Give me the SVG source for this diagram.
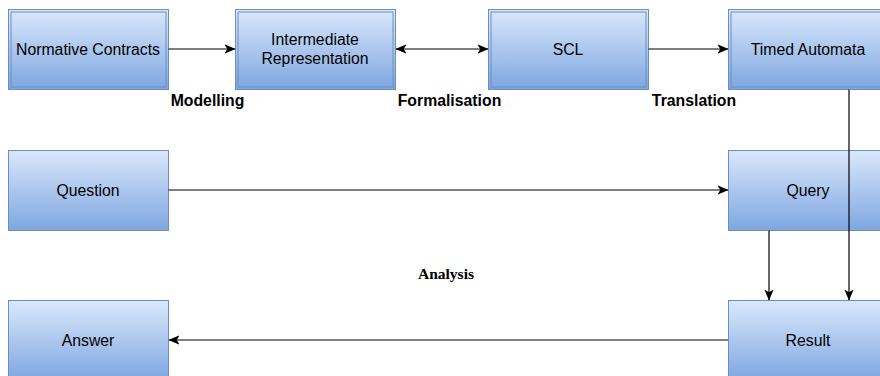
<svg xmlns="http://www.w3.org/2000/svg" width="880" height="376" viewBox="0 0 880 376">
<defs>
<linearGradient id="g" x1="0" y1="0" x2="0" y2="1">
<stop offset="0" stop-color="#dae8fc"/>
<stop offset="1" stop-color="#7ea6e0"/>
</linearGradient>
<marker id="ah" viewBox="0 0 10 10" refX="9.5" refY="5" markerWidth="11" markerHeight="11" markerUnits="userSpaceOnUse" orient="auto-start-reverse">
<path d="M0,0.8 L10,5 L0,9.2 L2.5,5 Z" fill="#000"/>
</marker>
<style>
.box{fill:url(#g);stroke:#6c8ebf;stroke-width:1}
.inner{fill:none;stroke:#6c8ebf;stroke-width:1}
.t{font-family:"Liberation Sans",Arial,sans-serif;font-size:15.8px;fill:#000;text-anchor:middle}
.lb{font-family:"Liberation Sans",Arial,sans-serif;font-size:15.8px;font-weight:bold;fill:#000;text-anchor:middle}
.ls{font-family:"Liberation Serif","Times New Roman",serif;font-size:15.5px;font-weight:bold;fill:#000;text-anchor:middle}
.c{stroke:#000;stroke-width:1.2;fill:none}
</style>
</defs>
<rect width="880" height="376" fill="#fff"/>
<g id="normative">
<rect class="box" x="8.5" y="9.5" width="160" height="80"/>
<rect class="inner" x="11" y="12" width="155" height="75"/>
<text class="t" x="88" y="54.5">Normative Contracts</text>
</g>
<g id="intermediate">
<rect class="box" x="235.5" y="9.5" width="160" height="80"/>
<rect class="inner" x="238" y="12" width="155" height="75"/>
<text class="t" x="315" y="44.5">Intermediate</text>
<text class="t" x="315" y="64">Representation</text>
</g>
<g id="scl">
<rect class="box" x="488.5" y="9.5" width="160" height="80"/>
<rect class="inner" x="491" y="12" width="155" height="75"/>
<text class="t" x="568" y="54.5">SCL</text>
</g>
<g id="timed">
<rect class="box" x="728.5" y="9.5" width="160" height="80"/>
<rect class="inner" x="731" y="12" width="155" height="75"/>
<text class="t" x="808" y="54.5">Timed Automata</text>
</g>
<g id="question">
<rect class="box" x="8.5" y="150.5" width="160" height="80"/>
<text class="t" x="88" y="196">Question</text>
</g>
<g id="query">
<rect class="box" x="728.5" y="150.5" width="160" height="80"/>
<text class="t" x="808" y="196">Query</text>
</g>
<g id="answer">
<rect class="box" x="8.5" y="300.5" width="160" height="80"/>
<text class="t" x="88" y="345.5">Answer</text>
</g>
<g id="result">
<rect class="box" x="728.5" y="300.5" width="160" height="80"/>
<text class="t" x="808" y="345.5">Result</text>
</g>
<g id="connectors">
<line class="c" x1="168.5" y1="49" x2="235" y2="49" marker-end="url(#ah)"/>
<line class="c" x1="396" y1="49" x2="488" y2="49" marker-start="url(#ah)" marker-end="url(#ah)"/>
<line class="c" x1="648.5" y1="49" x2="728" y2="49" marker-end="url(#ah)"/>
<line class="c" x1="849" y1="89.5" x2="849" y2="300" marker-end="url(#ah)"/>
<line class="c" x1="769" y1="230.5" x2="769" y2="300" marker-end="url(#ah)"/>
<line class="c" x1="168.5" y1="190" x2="728" y2="190" marker-end="url(#ah)"/>
<line class="c" x1="728" y1="340" x2="169" y2="340" marker-end="url(#ah)"/>
</g>
<g id="labels">
<text class="lb" x="207.5" y="106">Modelling</text>
<text class="lb" x="449.5" y="106">Formalisation</text>
<text class="lb" x="694" y="106">Translation</text>
<text class="ls" x="446" y="279">Analysis</text>
</g>
</svg>
